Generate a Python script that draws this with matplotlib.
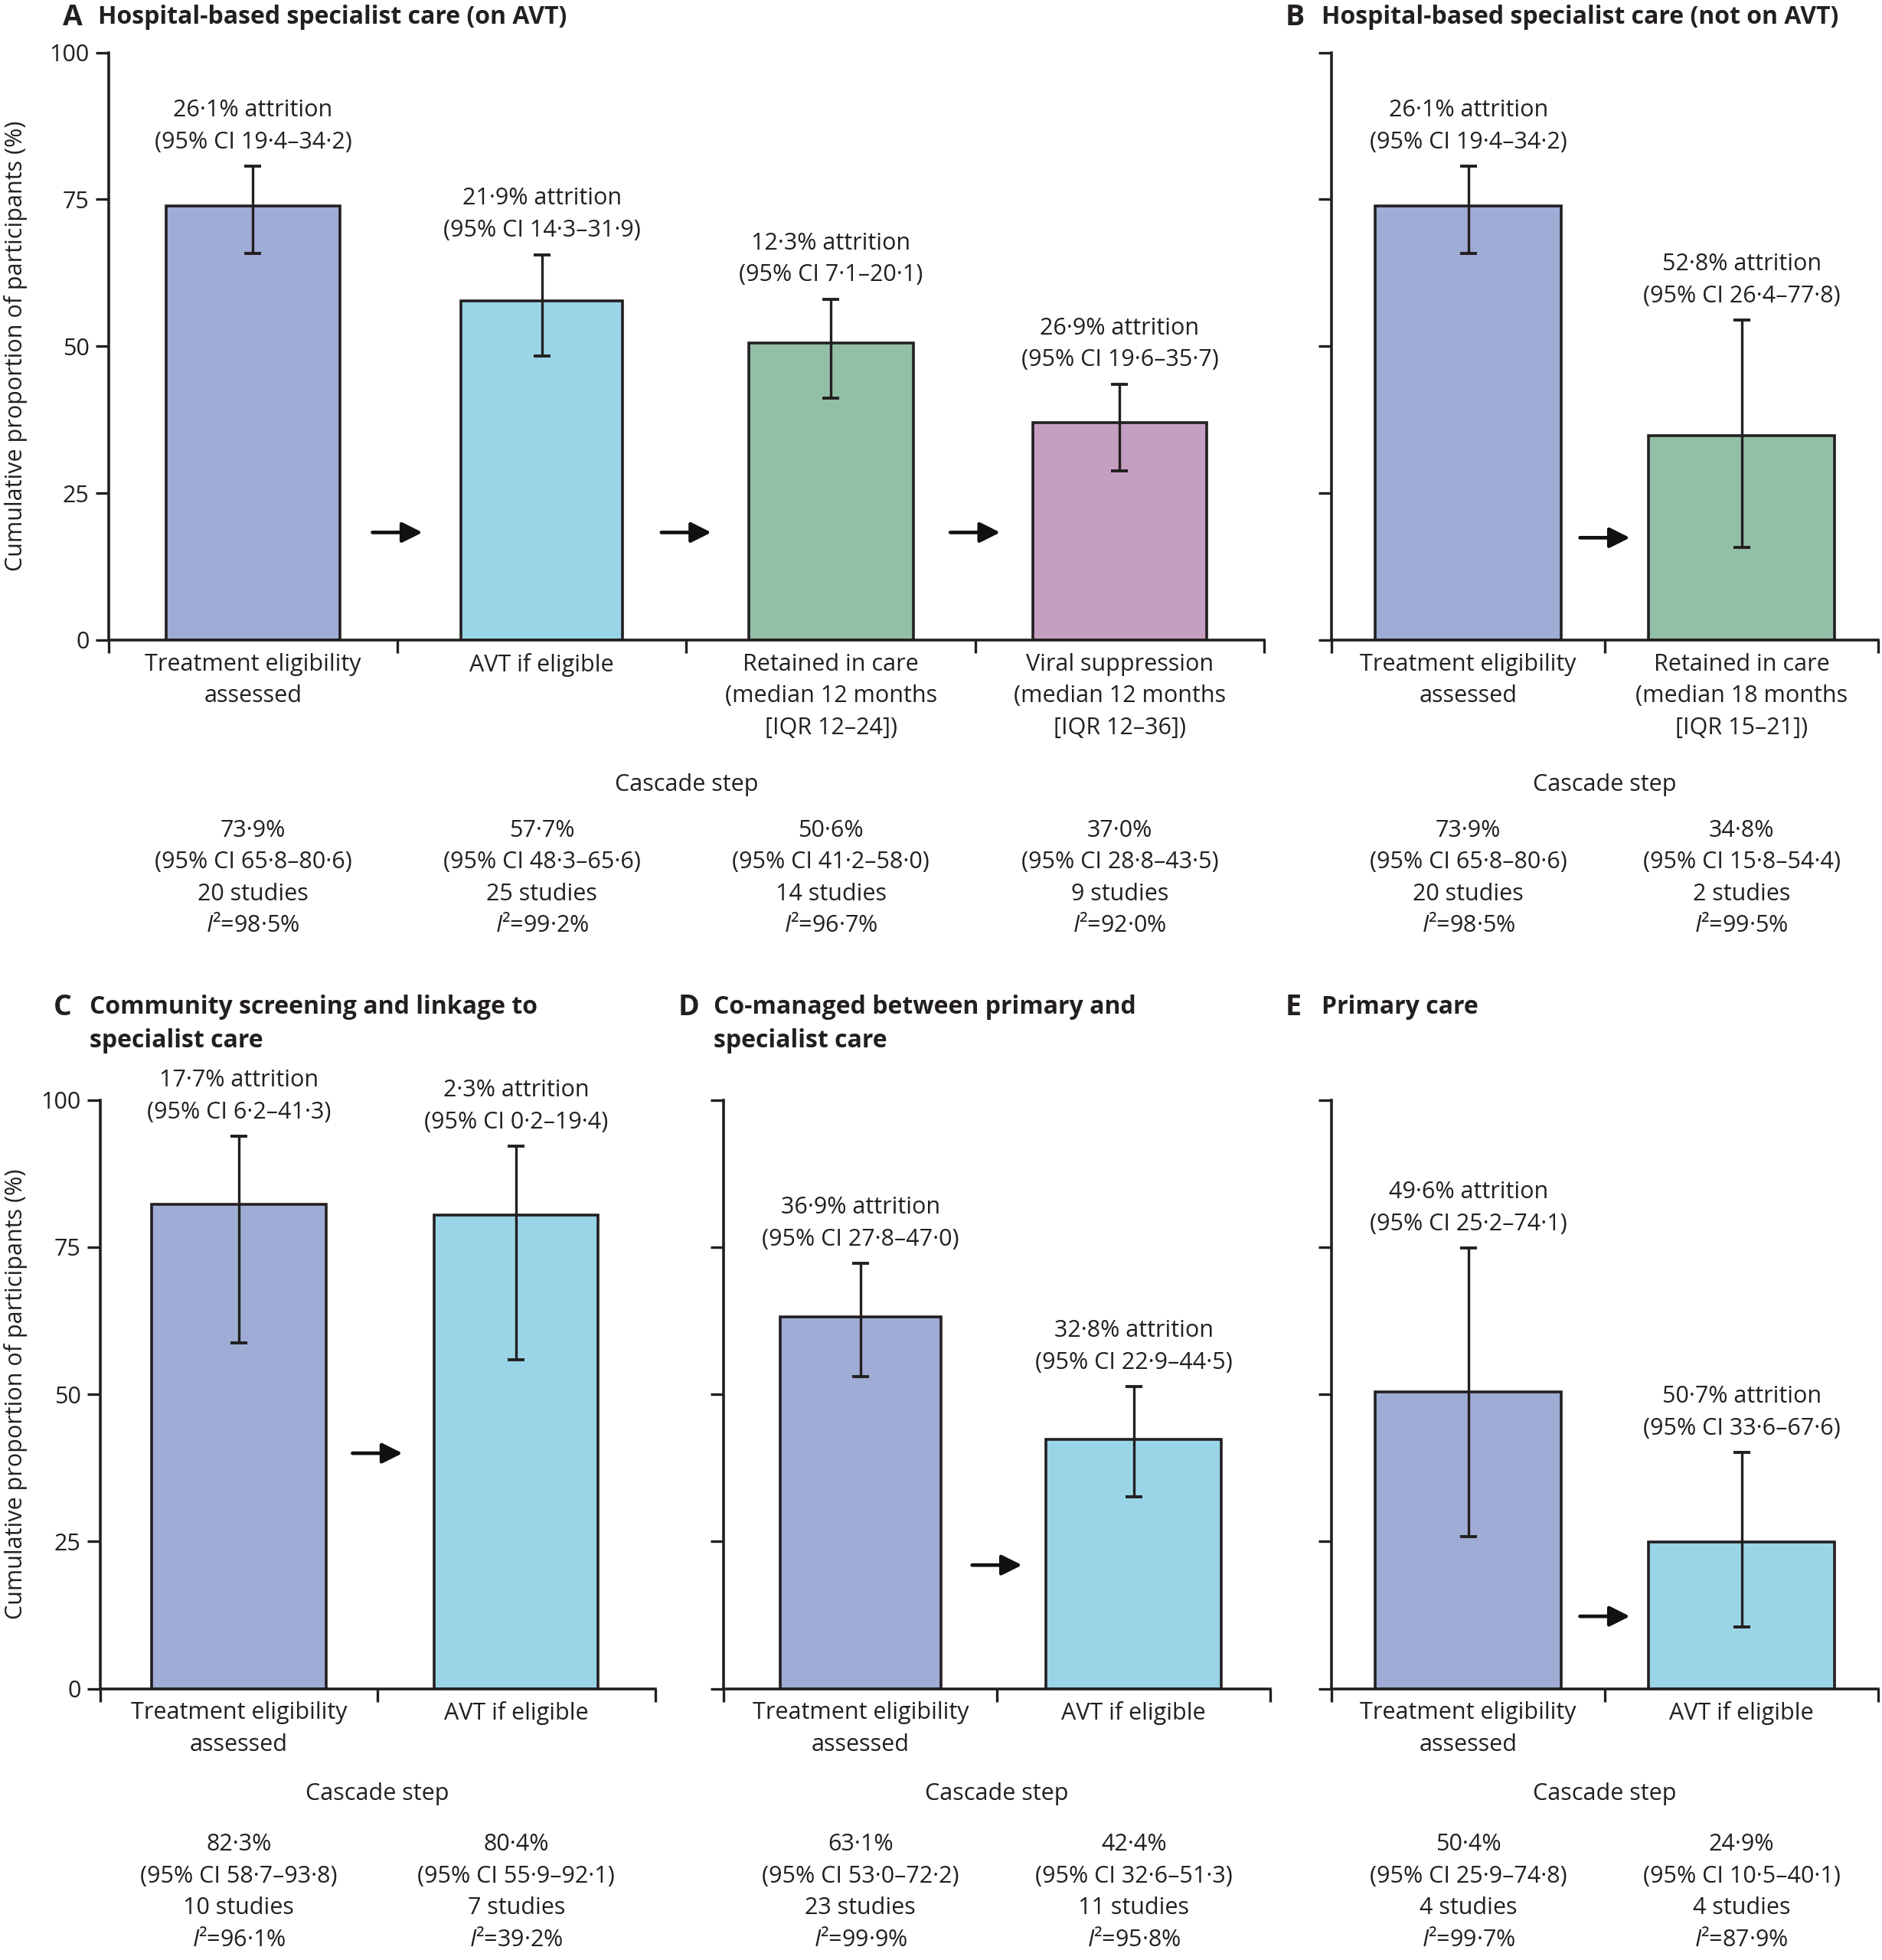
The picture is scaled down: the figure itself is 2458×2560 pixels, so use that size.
import matplotlib
matplotlib.use('Agg')
import matplotlib.pyplot as plt
from matplotlib import font_manager

# pick a narrow-ish font if we have one
names = set(f.name for f in font_manager.fontManager.ttflist)
font = 'DejaVu Sans'
for cand in ['Liberation Sans Narrow', 'Open Sans', 'Liberation Sans']:
    if cand in names:
        font = cand
        break
plt.rcParams['font.family'] = [font, 'DejaVu Sans']
plt.rcParams['mathtext.fontset'] = 'custom'
plt.rcParams['mathtext.rm'] = font
plt.rcParams['mathtext.it'] = font + ':italic'

INK = '#231f20'
BLUE = '#9facd5'
CYAN = '#9ad4e7'
GREEN = '#93bfa7'
PURPLE = '#c59fc2'

# ---- data ----
steps_A = ['Treatment eligibility\nassessed', 'AVT if eligible',
           'Retained in care\n(median 12 months\n[IQR 12–24])',
           'Viral suppression\n(median 12 months\n[IQR 12–36])']
value_A = [73.9, 57.7, 50.6, 37.0]
lo_A = [65.8, 48.3, 41.2, 28.8]
hi_A = [80.6, 65.6, 58.0, 43.5]
studies_A = [20, 25, 14, 9]
i2_A = [98.5, 99.2, 96.7, 92.0]
attr_A = [26.1, 21.9, 12.3, 26.9]
attr_lo_A = [19.4, 14.3, 7.1, 19.6]
attr_hi_A = [34.2, 31.9, 20.1, 35.7]

steps_B = ['Treatment eligibility\nassessed',
           'Retained in care\n(median 18 months\n[IQR 15–21])']
value_B = [73.9, 34.8]
lo_B = [65.8, 15.8]
hi_B = [80.6, 54.4]
studies_B = [20, 2]
i2_B = [98.5, 99.5]
attr_B = [26.1, 52.8]
attr_lo_B = [19.4, 26.4]
attr_hi_B = [34.2, 77.8]

steps_C = ['Treatment eligibility\nassessed', 'AVT if eligible']
value_C = [82.3, 80.4]
lo_C = [58.7, 55.9]
hi_C = [93.8, 92.1]
studies_C = [10, 7]
i2_C = [96.1, 39.2]
attr_C = [17.7, 2.3]
attr_lo_C = [6.2, 0.2]
attr_hi_C = [41.3, 19.4]

steps_D = ['Treatment eligibility\nassessed', 'AVT if eligible']
value_D = [63.1, 42.4]
lo_D = [53.0, 32.6]
hi_D = [72.2, 51.3]
studies_D = [23, 11]
i2_D = [99.9, 95.8]
attr_D = [36.9, 32.8]
attr_lo_D = [27.8, 22.9]
attr_hi_D = [47.0, 44.5]

steps_E = ['Treatment eligibility\nassessed', 'AVT if eligible']
value_E = [50.4, 24.9]
lo_E = [25.9, 10.5]
hi_E = [74.8, 40.1]
studies_E = [4, 4]
i2_E = [99.7, 87.9]
attr_E = [49.6, 50.7]
attr_lo_E = [25.2, 33.6]
attr_hi_E = [74.1, 67.6]


def d(v):
    return ('%.1f' % v).replace('.', '·')


fig = plt.figure(figsize=(12.29, 12.8), dpi=200)
FS = 11


def panel(rect, letter, title, steps, value, lo, hi, studies, i2,
          attr, attr_lo, attr_hi, colors, widths, arrow_y, ylabels,
          cascade_y, block_y):
    ax = fig.add_axes(rect)
    n = len(steps)
    x = list(range(n))
    ax.bar(x, value, width=widths, color=colors, edgecolor=INK, linewidth=1.3, zorder=2)
    ax.errorbar(x, value, yerr=[[v - l for v, l in zip(value, lo)],
                                [h - v for v, h in zip(value, hi)]],
                fmt='none', ecolor=INK, elinewidth=1.2, capsize=3.8, capthick=1.4, zorder=3)
    for xi, h, a, al, ah in zip(x, hi, attr, attr_lo, attr_hi):
        ax.annotate('%s%% attrition\n(95%% CI %s–%s)' % (d(a), d(al), d(ah)),
                    xy=(xi, h), xytext=(0, 6), textcoords='offset points',
                    ha='center', va='bottom', fontsize=FS, color=INK, linespacing=1.5)
    # arrows between steps, about 40 px (display) long
    half = 20.0 / (rect[2] * 1508 / n)
    for k in range(n - 1):
        ax.annotate('', xy=(k + 0.5 + half, arrow_y), xytext=(k + 0.5 - half, arrow_y),
                    arrowprops=dict(arrowstyle='-|>', lw=1.7, color='#111111',
                                    mutation_scale=20, shrinkA=0, shrinkB=0))
    ax.set_xlim(-0.5, n - 0.5)
    ax.set_ylim(0, 100)
    ax.set_yticks([0, 25, 50, 75, 100])
    if ylabels:
        ax.set_yticklabels(['0', '25', '50', '75', '100'])
        fig.text(0.0085, rect[1] + rect[3] / 2.0, 'Cumulative proportion of participants (%)',
                 rotation=90, ha='center', va='center', fontsize=FS, color=INK)
    else:
        ax.set_yticklabels([])
    ax.set_xticks(x)
    ax.set_xticklabels(steps, linespacing=1.5)
    ax.set_xticks([k - 0.5 for k in range(n + 1)], minor=True)
    ax.tick_params(axis='x', which='major', length=0, pad=6, labelsize=FS, colors=INK)
    ax.tick_params(axis='x', which='minor', length=6, width=1.2, direction='out', color=INK)
    ax.tick_params(axis='y', length=6, width=1.2, direction='out', labelsize=FS, colors=INK, pad=3)
    for s in ['top', 'right']:
        ax.spines[s].set_visible(False)
    for s in ['left', 'bottom']:
        ax.spines[s].set_linewidth(1.3)
        ax.spines[s].set_color(INK)
    ax.text((n - 1) / 2.0, cascade_y, 'Cascade step', transform=ax.get_xaxis_transform(),
            ha='center', va='center', fontsize=FS, color=INK)
    for xi, v, l, h, s, q in zip(x, value, lo, hi, studies, i2):
        ax.text(xi, block_y, '%s%%\n(95%% CI %s–%s)\n%d studies\n$I$²=%s%%' % (d(v), d(l), d(h), s, d(q)),
                transform=ax.get_xaxis_transform(), ha='center', va='top',
                fontsize=FS, color=INK, linespacing=1.5)
    # panel letter + title
    fig.text(rect[0] - 0.0245, title[1], letter, fontsize=13.5, fontweight='bold', color=INK,
             ha='left', va='top')
    fig.text(rect[0] - 0.0055, title[1] - 0.001, title[0], fontsize=11.5, fontweight='bold', color=INK,
             ha='left', va='top', linespacing=1.45)
    return ax


panel([0.0577, 0.6735, 0.614, 0.2997], 'A', ('Hospital-based specialist care (on AVT)', 0.9985),
      steps_A, value_A, lo_A, hi_A, studies_A, i2_A, attr_A, attr_lo_A, attr_hi_A,
      [BLUE, CYAN, GREEN, PURPLE], [0.60, 0.56, 0.57, 0.60], 18.3, True, -0.247, -0.305)
panel([0.7076, 0.6735, 0.2904, 0.2997], 'B', ('Hospital-based specialist care (not on AVT)', 0.9985),
      steps_B, value_B, lo_B, hi_B, studies_B, i2_B, attr_B, attr_lo_B, attr_hi_B,
      [BLUE, GREEN], [0.68, 0.68], 17.4, False, -0.247, -0.305)
panel([0.0531, 0.1384, 0.295, 0.3004], 'C', ('Community screening and linkage to\nspecialist care', 0.4935),
      steps_C, value_C, lo_C, hi_C, studies_C, i2_C, attr_C, attr_lo_C, attr_hi_C,
      [BLUE, CYAN], [0.63, 0.59], 40.0, True, -0.178, -0.245)
panel([0.3846, 0.1384, 0.2904, 0.3004], 'D', ('Co-managed between primary and\nspecialist care', 0.4935),
      steps_D, value_D, lo_D, hi_D, studies_D, i2_D, attr_D, attr_lo_D, attr_hi_D,
      [BLUE, CYAN], [0.59, 0.64], 21.0, False, -0.178, -0.245)
panel([0.7076, 0.1384, 0.2904, 0.3004], 'E', ('Primary care', 0.4935),
      steps_E, value_E, lo_E, hi_E, studies_E, i2_E, attr_E, attr_lo_E, attr_hi_E,
      [BLUE, CYAN], [0.68, 0.68], 12.3, False, -0.178, -0.245)

fig.savefig('out.png', dpi=200)
